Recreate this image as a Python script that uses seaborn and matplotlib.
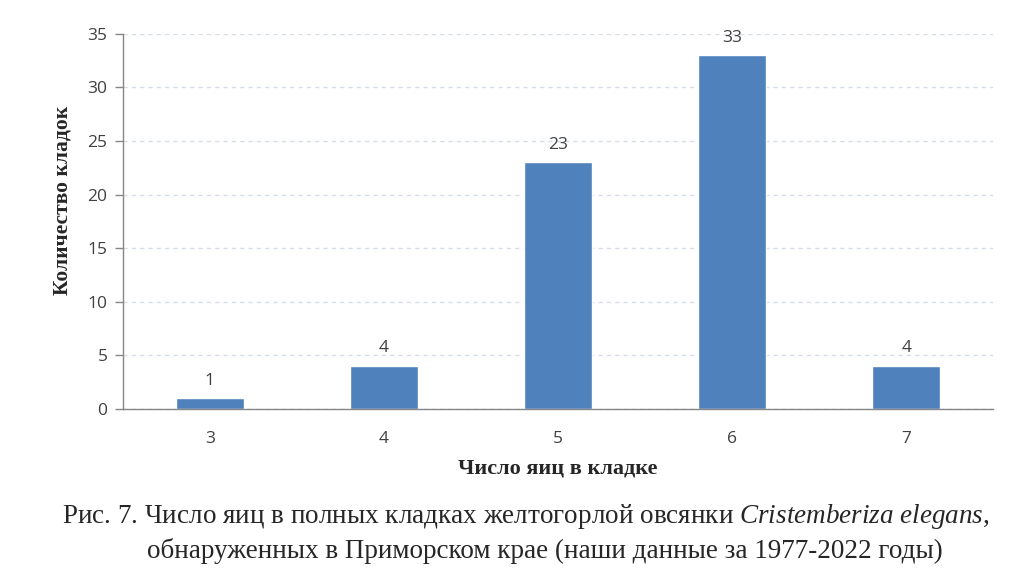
import numpy as np
import pandas as pd
import matplotlib.pyplot as plt
import seaborn as sns

eggs = ["3", "4", "5", "6", "7"]
clutches = [1, 4, 23, 33, 4]

sns.set_style("white")
plt.rcParams['font.family'] = ['Liberation Serif', 'DejaVu Serif']
plt.rcParams['mathtext.fontset'] = 'custom'
plt.rcParams['mathtext.rm'] = 'Liberation Serif'
plt.rcParams['mathtext.it'] = 'Liberation Serif:italic'

df = pd.DataFrame({"eggs": eggs, "n": clutches})

fig = plt.figure(figsize=(10.24, 5.74), dpi=100)
ax = fig.add_axes([0.120, 0.2875, 0.850, 0.6535])

sns.barplot(data=df, x="eggs", y="n", color="#4F81BD", saturation=1, width=0.39, ax=ax)

ax.set_xlim(-0.5, 4.5)
ax.set_ylim(0, 35)
ax.set_yticks(range(0, 36, 5))
ax.yaxis.grid(True, color="#D5DDE8", linestyle=(0, (3, 3)), linewidth=1)
ax.set_axisbelow(True)

tickfont = {'family': ['Open Sans', 'DejaVu Sans'], 'size': 12.5}
ax.set_yticklabels([str(v) for v in range(0, 36, 5)], fontdict=tickfont, color="#404040")
ax.set_xticklabels(eggs, fontdict=tickfont, color="#404040")
ax.set_xticks(np.arange(-0.5, 5, 1), minor=True)
ax.tick_params(axis='x', which='major', length=0, pad=16)
ax.tick_params(axis='x', which='minor', length=5, color="#868686", width=1)
ax.tick_params(axis='y', length=6, color="#868686", width=1, pad=5, left=True)

for s in ["top", "right"]:
    ax.spines[s].set_visible(False)
for s in ["left", "bottom"]:
    ax.spines[s].set_color("#868686")
    ax.spines[s].set_linewidth(1)

for i, v in enumerate(clutches):
    ax.text(i, v + 0.9, str(v), ha="center", va="bottom",
            family=['Open Sans', 'DejaVu Sans'], fontsize=12.5, color="#404040")

ax.set_xlabel("Число яиц в кладке", fontsize=16, fontweight="bold", labelpad=8)
ax.set_ylabel("Количество кладок", fontsize=15.5, fontweight="bold")
ax.yaxis.set_label_coords(-0.058, 0.557)

fig.text(0.513, 0.1,
         r"Рис. 7. Число яиц в полных кладках желтогорлой овсянки $\mathit{Cristemberiza\ elegans}$,",
         ha="center", va="center", fontsize=19.5)
fig.text(0.532, 0.04,
         "обнаруженных в Приморском крае (наши данные за 1977-2022 годы)",
         ha="center", va="center", fontsize=19.5)

fig.savefig("out.png", dpi=100)
